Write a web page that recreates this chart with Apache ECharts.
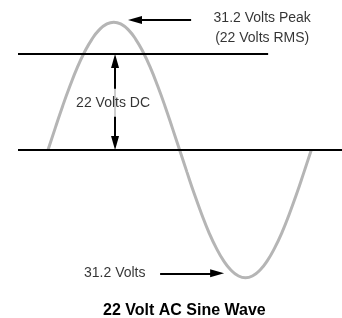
<!DOCTYPE html>
<html>
<head>
<meta charset="utf-8">
<script src="https://cdn.jsdelivr.net/npm/echarts@6/dist/echarts.min.js"></script>
<style>
    html, body { margin: 0; padding: 0; background: #fff; }
    #chart_wave { width: 342px; height: 318px; }
</style>
</head>
<body>
<div id="chart_wave"></div>
<script>
// 相位 (度) 与 电压 (V), 每 10 度读一个点
var phase = [0, 10, 20, 30, 40, 50, 60, 70, 80, 90, 100, 110, 120, 130, 140, 150, 160, 170, 180,
             190, 200, 210, 220, 230, 240, 250, 260, 270, 280, 290, 300, 310, 320, 330, 340, 350, 360];
var volts = [0, 5.4, 10.7, 15.6, 20.1, 23.9, 27.0, 29.3, 30.7, 31.2, 30.7, 29.3, 27.0, 23.9, 20.1, 15.6, 10.7, 5.4, 0,
             -5.4, -10.7, -15.6, -20.1, -23.9, -27.0, -29.3, -30.7, -31.2, -30.7, -29.3, -27.0, -23.9, -20.1, -15.6, -10.7, -5.4, 0];

// 参考线: 直流电平 与 零线
var dcLevel = 23.4;
var zeroLevel = 0;

// 文字
var peakText = ['31.2 Volts Peak', '(22 Volts RMS)'];
var dcText = '22 Volts DC';
var lowText = '31.2 Volts';
var chartTitle = '22 Volt AC Sine Wave';

var FONT = "'Liberation Sans', Arial, sans-serif";

var chart = echarts.init(document.getElementById('chart_wave'));

var wave = phase.map(function (p, i) {
    return [p, volts[i]];
});

// 文字标签
var label = function (x, y, text) {
    return {
        value: [x, y],
        label: { formatter: text }
    };
};

// 箭头 (三角形以端点为中心, 端点往回收半个箭头)
var arrow = function (from, to, both) {
    return [
        { coord: from, symbol: both ? 'triangle' : 'none' },
        { coord: to, symbol: 'triangle' }
    ];
};

var option = {
    animation: false,
    title: {
        text: chartTitle,
        left: 98,
        top: 298,
        textStyle: {
            fontFamily: FONT,
            fontSize: 16,
            fontWeight: 'bold',
            color: '#000'
        }
    },
    grid: {
        left: 18,
        right: 0,
        top: 0,
        bottom: 0
    },
    xAxis: {
        type: 'value',
        min: -41,
        max: 402,
        show: false
    },
    yAxis: {
        type: 'value',
        min: -41,
        max: 36.6,
        show: false
    },
    series: [
        {
            name: 'wave',
            type: 'line',
            data: wave,
            smooth: true,
            symbol: 'none',
            lineStyle: { color: '#b5b5b5', width: 3 },
            z: 2
        },
        {
            name: 'dc',
            type: 'line',
            data: [[-41, dcLevel], [301, dcLevel]],
            symbol: 'none',
            lineStyle: { color: '#000', width: 2 },
            z: 3
        },
        {
            name: 'zero',
            type: 'line',
            data: [[-41, zeroLevel], [402, zeroLevel]],
            symbol: 'none',
            lineStyle: { color: '#000', width: 2 },
            z: 3,
            markLine: {
                silent: true,
                symbolSize: [8, 14],
                label: { show: false },
                lineStyle: { color: '#000', width: 2, type: 'solid' },
                data: [
                    arrow([195.7, 31.7], [119, 31.7]),
                    arrow([91.7, zeroLevel + 1.7], [91.7, dcLevel - 1.7], true),
                    arrow([153.3, -30.1], [231.3, -30.1])
                ]
            }
        },
        {
            name: 'text',
            type: 'scatter',
            symbolSize: 0,
            z: 5,
            label: {
                show: true,
                position: 'inside',
                color: '#000',
                fontFamily: FONT,
                fontSize: 14,
                lineHeight: 20
            },
            data: [
                label(292.9, 29.8, peakText.join('\n')),
                label(89.0, 11.5, dcText),
                label(91.3, -30.1, lowText)
            ]
        }
    ]
};

// 直流文字下衬白底, 挡住竖线
option.series[3].data[1].label.backgroundColor = '#fff';
option.series[3].data[1].label.padding = [4, 0];

chart.setOption(option);
</script>
</body>
</html>
